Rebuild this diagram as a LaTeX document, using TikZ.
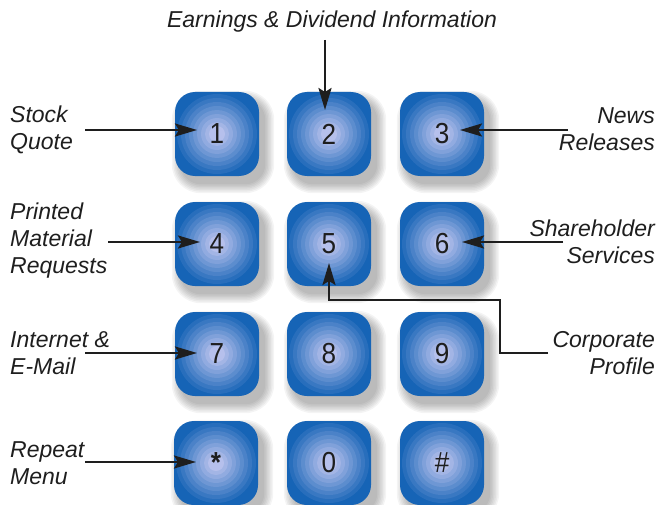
\documentclass[tikz,border=0pt]{standalone}
\usepackage{fontspec}
\setmainfont{Liberation Sans}
\newfontfamily\labfont{Liberation Sans}
\newfontfamily\digfont[FakeStretch=0.9]{Liberation Sans}
\usetikzlibrary{arrows.meta,calc,backgrounds}
\definecolor{bout}{RGB}{22,100,182}
\definecolor{bin}{RGB}{182,192,236}
\definecolor{ink}{RGB}{30,30,30}
\begin{document}
\begin{tikzpicture}[x=1pt,y=-1pt,
  lab/.style={font=\labfont\itshape\fontsize{23}{27}\selectfont, text=ink, inner sep=0pt},
  labl/.style={lab, align=left, anchor=west},
  labr/.style={lab, align=right, anchor=east},
  arr/.style={draw=ink, line width=2.4pt, -{Stealth[length=22pt,width=13pt,inset=4pt]}},
  shade/.style={fill=black, opacity=0.045},
  btn/.style={rounded corners=20pt, minimum width=84pt, minimum height=84pt, fill=bout,
    inner sep=0pt, font=\digfont\fontsize{29}{29}\selectfont, text=ink,
    path picture={
      \foreach \k in {0,...,8}{
        \pgfmathsetmacro\r{40-4*\k}
        \pgfmathtruncatemacro\p{(\k+1)*100/9}
        \fill[bin!\p!bout] (path picture bounding box.center) circle (\r);
      }
    }}
]
\useasboundingbox (0,0) rectangle (660,505);

% buttons
\node[btn] (b1) at (217,134) {1};
\node[btn] (b2) at (329,134) {2};
\node[btn] (b3) at (442,134) {3};
\node[btn] (b4) at (217,244) {4};
\node[btn] (b5) at (329,244) {5};
\node[btn] (b6) at (442,244) {6};
\node[btn] (b7) at (217,354) {7};
\node[btn] (b8) at (329,354) {8};
\node[btn] (b9) at (442,354) {9};
\node[btn] (bs) at (216,463) {\textbf{*}};
\node[btn] (b0) at (329,463) {0};
\node[btn] (bh) at (442,463) {\#};

% soft shadows
\begin{scope}[on background layer]
  \foreach \b in {b1,b2,b3,b4,b5,b6,b7,b8,b9,bs,b0,bh}{
    \foreach \e in {9,7.5,6,4.5,3,1.5,0}{
      \pgfmathsetmacro\rr{20+\e}
      \fill[shade, rounded corners=\rr pt]
        ($(\b.north west)+(6-\e,8-\e)$) rectangle ($(\b.south east)+(6+\e,8+\e)$);
    }
  }
\end{scope}

% labels
\node[lab] (earn) at (332,22) {Earnings \& Dividend Information};
\node[labl] (stock) at (10,129.5) {Stock\\Quote};
\node[labr] (news) at (655,129.5) {News\\Releases};
\node[labl] (print) at (10,241) {Printed\\Material\\Requests};
\node[labr] (share) at (655,242) {Shareholder\\Services};
\node[labl] (inet) at (10,353.5) {Internet \&\\E-Mail};
\node[labr] (corp) at (655,353.5) {Corporate\\Profile};
\node[labl] (rep) at (10,463) {Repeat\\Menu};

% connectors
\coordinate (sE) at (325,40);
\coordinate (sA) at (85,130);
\coordinate (sN) at (568,130);
\coordinate (sP) at (108,242);
\coordinate (sS) at (563,242);
\coordinate (sI) at (85,353);
\coordinate (sR) at (85,462);
\coordinate (sC) at (548,353);
\coordinate (cC) at (500,300);

\draw[arr, shorten >=24pt] (sE) -- (sE |- b2.center);
\draw[arr, shorten >=20pt] (sA) -- (sA -| b1.center);
\draw[arr, shorten >=18pt] (sN) -- (sN -| b3.center);
\draw[arr, shorten >=17pt] (sP) -- (sP -| b4.center);
\draw[arr, shorten >=20pt] (sS) -- (sS -| b6.center);
\draw[arr, shorten >=20pt] (sI) -- (sI -| b7.center);
\draw[arr, shorten >=20pt] (sR) -- (sR -| bs.center);
\draw[arr, shorten >=19pt] (sC) -| (cC) -| (b5.center);
\end{tikzpicture}
\end{document}
